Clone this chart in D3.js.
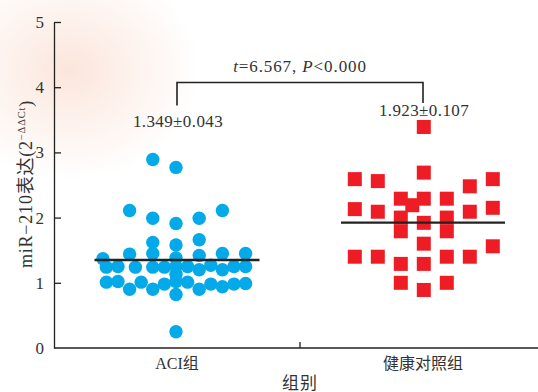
<!DOCTYPE html>
<html>
<head>
<meta charset="utf-8">
<script src="https://cdn.jsdelivr.net/npm/d3@7"></script>
<style>
  html, body { margin: 0; padding: 0; background: #fff; }
  svg { display: block; }
  text { fill: #333; }
</style>
</head>
<body>
<svg id="chart" width="538" height="392"></svg>
<script>
// Group names, in axis order
const groups = ["ACI组", "健康对照组"];
const yTicks = [0, 1, 2, 3, 4, 5];

// ACI group: [swarm slot, miR-210 relative expression]
const aciValues = [
  [-2, 2.89], [0, 2.77], [-4, 2.11], [4, 2.11], [-2, 1.99], [0, 1.91], [2, 1.99],
  [-2, 1.62], [0, 1.58], [2, 1.66],
  [-4, 1.44], [-2, 1.45], [0, 1.38], [2, 1.42], [4, 1.45], [6, 1.45], [-6.3, 1.37],
  [-6, 1.24], [-5, 1.25], [-3.5, 1.24], [-2, 1.24], [-1, 1.24], [0, 1.25], [1, 1.25],
  [2, 1.20], [3, 1.27], [4, 1.20], [5, 1.25], [6, 1.25],
  [0, 1.13],
  [-6, 1.01], [-5, 1.02], [-4, 0.90], [-3, 1.01], [-2, 0.90], [-1, 0.98], [0, 1.02],
  [1, 1.01], [2, 0.90], [3, 0.98], [4, 0.94], [5, 0.98], [6, 0.99],
  [0, 0.82], [0, 0.25]
];

// Healthy control group: [swarm slot, miR-210 relative expression]
const controlValues = [
  [0, 3.39],
  [-3, 2.59], [-2, 2.56], [0, 2.69], [2, 2.48], [3, 2.59],
  [-1, 2.29], [-0.5, 2.19], [0, 2.29], [1, 2.29],
  [-3, 2.13], [-2, 2.09], [2, 2.09], [3, 2.15],
  [-1, 2.00], [0, 1.92], [1, 2.00],
  [-1, 1.79], [1, 1.79],
  [0, 1.60], [3, 1.56],
  [-3, 1.40], [-2, 1.40], [1, 1.40], [2, 1.40],
  [-1, 1.29], [0, 1.29],
  [-1, 1.00], [0, 0.89], [1, 1.00]
];

// Group means and SEM as reported
const means = [1.349, 1.923];
const sems = [0.043, 0.107];
const statText = ["t", "=6.567, ", "P", "<0.000"];

const svg = d3.select("#chart");
const serif = "'Liberation Serif', 'Times New Roman', 'Noto Serif CJK SC', 'Noto Sans CJK SC', serif";
const cjk = "'Liberation Serif', 'Noto Sans CJK SC', serif";

// faint seal watermark behind the plot
const wm = svg.append("g").attr("class", "watermark");
const defs = svg.append("defs");
const rg = defs.append("radialGradient").attr("id", "wmGlow");
rg.append("stop").attr("offset", "0%").attr("stop-color", "#fbe3d8").attr("stop-opacity", 0.9);
rg.append("stop").attr("offset", "100%").attr("stop-color", "#fbe3d8").attr("stop-opacity", 0);
wm.append("ellipse").attr("cx", 70).attr("cy", 70).attr("rx", 130).attr("ry", 110)
  .attr("fill", "url(#wmGlow)");

const x = d3.scaleBand().domain(groups).range([54, 546]);
const y = d3.scaleLinear().domain([0, 5]).range([348, 22]);

const slotStep = [11.6, 23];
const center = g => x(groups[g]) + x.bandwidth() / 2;

// y axis
const yAxis = d3.axisLeft(y).tickValues(yTicks).tickFormat(d3.format("d"))
  .tickSizeInner(-7).tickSizeOuter(0).tickPadding(10);
const ya = svg.append("g").attr("transform", "translate(54,0)").call(yAxis);
ya.select(".domain").attr("stroke", "#222").attr("stroke-width", 1.3);
ya.selectAll(".tick line").attr("stroke", "#222").attr("stroke-width", 1.3);
ya.selectAll(".tick text").attr("font-family", serif).attr("font-size", 17).attr("fill", "#333");
ya.selectAll(".tick").filter(d => d === 0).select("line").remove();

// x axis: baseline plus a divider tick between groups
const xa = svg.append("g").attr("transform", "translate(0,348)");
xa.append("line").attr("x1", 54).attr("x2", 538).attr("stroke", "#222").attr("stroke-width", 1.3);
xa.append("line").attr("x1", x(groups[1])).attr("x2", x(groups[1]))
  .attr("y1", 0).attr("y2", -6).attr("stroke", "#222").attr("stroke-width", 1.3);
xa.selectAll("text.cat").data(groups).join("text").attr("class", "cat")
  .attr("x", d => x(d) + x.bandwidth() / 2).attr("y", 21)
  .attr("text-anchor", "middle").attr("font-family", cjk).attr("font-size", 16)
  .text(d => d);
xa.append("text").attr("x", x(groups[1])).attr("y", 41).attr("text-anchor", "middle")
  .attr("font-family", cjk).attr("font-size", 17).attr("letter-spacing", 1).text("组别");

// y axis title with superscript
const yt = svg.append("text")
  .attr("transform", "translate(32,184) rotate(-90)")
  .attr("text-anchor", "middle").attr("font-family", cjk).attr("font-size", 18)
  .attr("letter-spacing", 0.8);
yt.append("tspan").text("miR−210表达(2");
yt.append("tspan").attr("font-size", 10.5).attr("dy", -7).text("−ΔΔCt");
yt.append("tspan").attr("dy", 7).text(")");

// points
svg.append("g").selectAll("circle").data(aciValues).join("circle")
  .attr("cx", d => center(0) - 1 + d[0] * slotStep[0])
  .attr("cy", d => y(d[1]))
  .attr("r", 6.7)
  .attr("fill", "#03a9e9");

const sq = 14;
svg.append("g").selectAll("rect").data(controlValues).join("rect")
  .attr("x", d => center(1) + 0.8 + d[0] * slotStep[1] - sq / 2)
  .attr("y", d => y(d[1]) - sq / 2)
  .attr("width", sq).attr("height", sq)
  .attr("fill", "#ee1d25");

// mean lines
const halfLen = [82.5, 81];
svg.append("g").selectAll("line").data(means).join("line")
  .attr("x1", (d, i) => center(i) - halfLen[i] + (i ? -1 : 0))
  .attr("x2", (d, i) => center(i) + halfLen[i] + (i ? 1 : 0))
  .attr("y1", d => y(d)).attr("y2", d => y(d))
  .attr("stroke", "#222").attr("stroke-width", 2.4);

// mean ± SEM labels
const labelY = [127, 116];
svg.append("g").selectAll("text").data(means).join("text")
  .attr("x", (d, i) => center(i) + 1)
  .attr("y", (d, i) => labelY[i])
  .attr("text-anchor", "middle").attr("font-family", serif).attr("font-size", 17)
  .attr("letter-spacing", 0.4)
  .text((d, i) => d3.format(".3f")(d) + "±" + d3.format(".3f")(sems[i]));

// significance bracket
const bracketY = 82.5;
svg.append("path")
  .attr("d", `M${center(0)},${105.5}V${bracketY}H${center(1)}V${103}`)
  .attr("fill", "none").attr("stroke", "#222").attr("stroke-width", 1.6);
const st = svg.append("text").attr("x", x(groups[1])).attr("y", 72)
  .attr("text-anchor", "middle").attr("font-family", serif).attr("font-size", 17)
  .attr("letter-spacing", 0.9);
statText.forEach((s, i) => {
  st.append("tspan").attr("font-style", i % 2 === 0 ? "italic" : "normal").text(s);
});
</script>
</body>
</html>
